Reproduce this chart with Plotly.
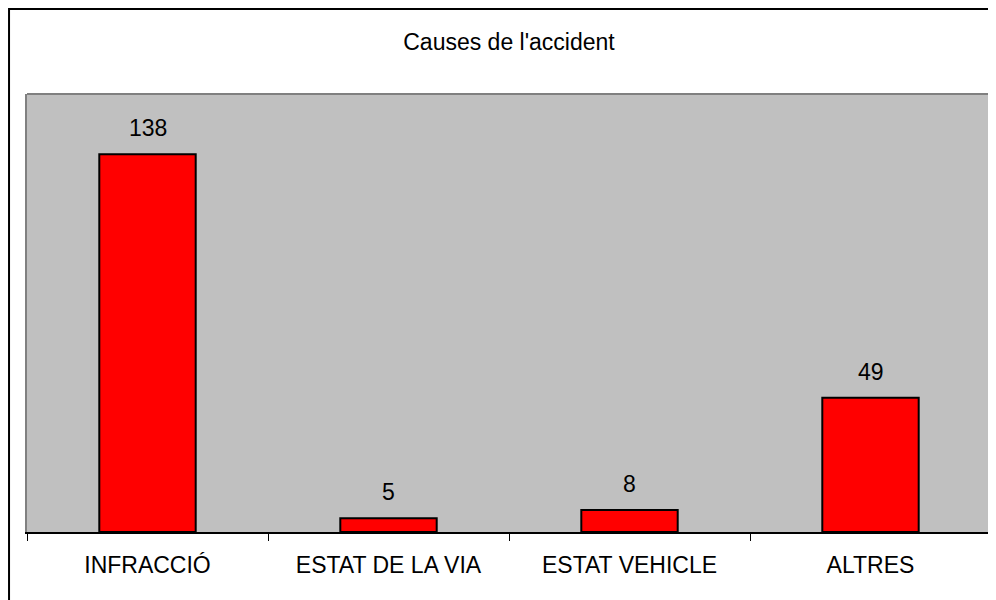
import plotly.graph_objects as go

categories = ["INFRACCIÓ", "ESTAT DE LA VIA", "ESTAT VEHICLE", "ALTRES"]
values = [138, 5, 8, 49]
title_text = "Causes de l'accident"

FONT = "Liberation Sans, Arial, sans-serif"

# page body has an 8px margin; compensate so the picture lands at the reference spots
OFF = 8
W, H = 996 - OFF, 600 - OFF
ml, mt = 27 - OFF, 94 - OFF
mr = W - (993 - OFF)
mb = H - (532 - OFF)
ph = H - mt - mb
pw = W - ml - mr

fig = go.Figure()
fig.add_trace(go.Bar(
    x=categories, y=values,
    marker=dict(color="#FF0000", line=dict(color="black", width=2)),
    width=0.4,
    hoverinfo="x+y",
))

for c, v in zip(categories, values):
    fig.add_annotation(x=c, y=v, xref="x", yref="y", text=str(v),
                       showarrow=False, yanchor="bottom", yshift=11,
                       font=dict(family=FONT, size=23, color="black"))

def px_x(p):
    return (p - OFF - ml) / pw

def px_y(p):
    return (H - mb - (p - OFF)) / ph

# outer frame
fig.add_shape(type="rect", xref="paper", yref="paper",
              x0=px_x(9), x1=px_x(1010), y0=px_y(615), y1=px_y(9),
              line=dict(color="black", width=2), fillcolor="rgba(0,0,0,0)")
# top border of plot area
fig.add_shape(type="line", xref="paper", yref="paper",
              x0=0, x1=1, y0=1, y1=1,
              line=dict(color="#808080", width=2))

fig.update_layout(
    width=W, height=H,
    margin=dict(l=ml, r=mr, t=mt, b=mb),
    paper_bgcolor="white",
    plot_bgcolor="#C0C0C0",
    showlegend=False,
    font=dict(family=FONT, size=23, color="black"),
    title=dict(text=title_text, x=0.5, xref="paper", xanchor="center",
               y=1 - (42 - OFF) / H, yref="container", yanchor="middle",
               font=dict(family=FONT, size=23, color="black")),
    bargap=0.6,
)
fig.update_xaxes(
    showline=True, linecolor="black", linewidth=1.5, mirror=False,
    ticks="outside", tickson="boundaries", ticklen=7, tickcolor="black", tickwidth=1,
    showgrid=False, ticklabelstandoff=12,
    tickfont=dict(family=FONT, size=23, color="black"),
)
fig.update_yaxes(
    range=[0, 160], showticklabels=False, showgrid=False, zeroline=False,
    showline=True, linecolor="#808080", linewidth=2, mirror=True, ticks="",
)

fig.write_html("out.html")
